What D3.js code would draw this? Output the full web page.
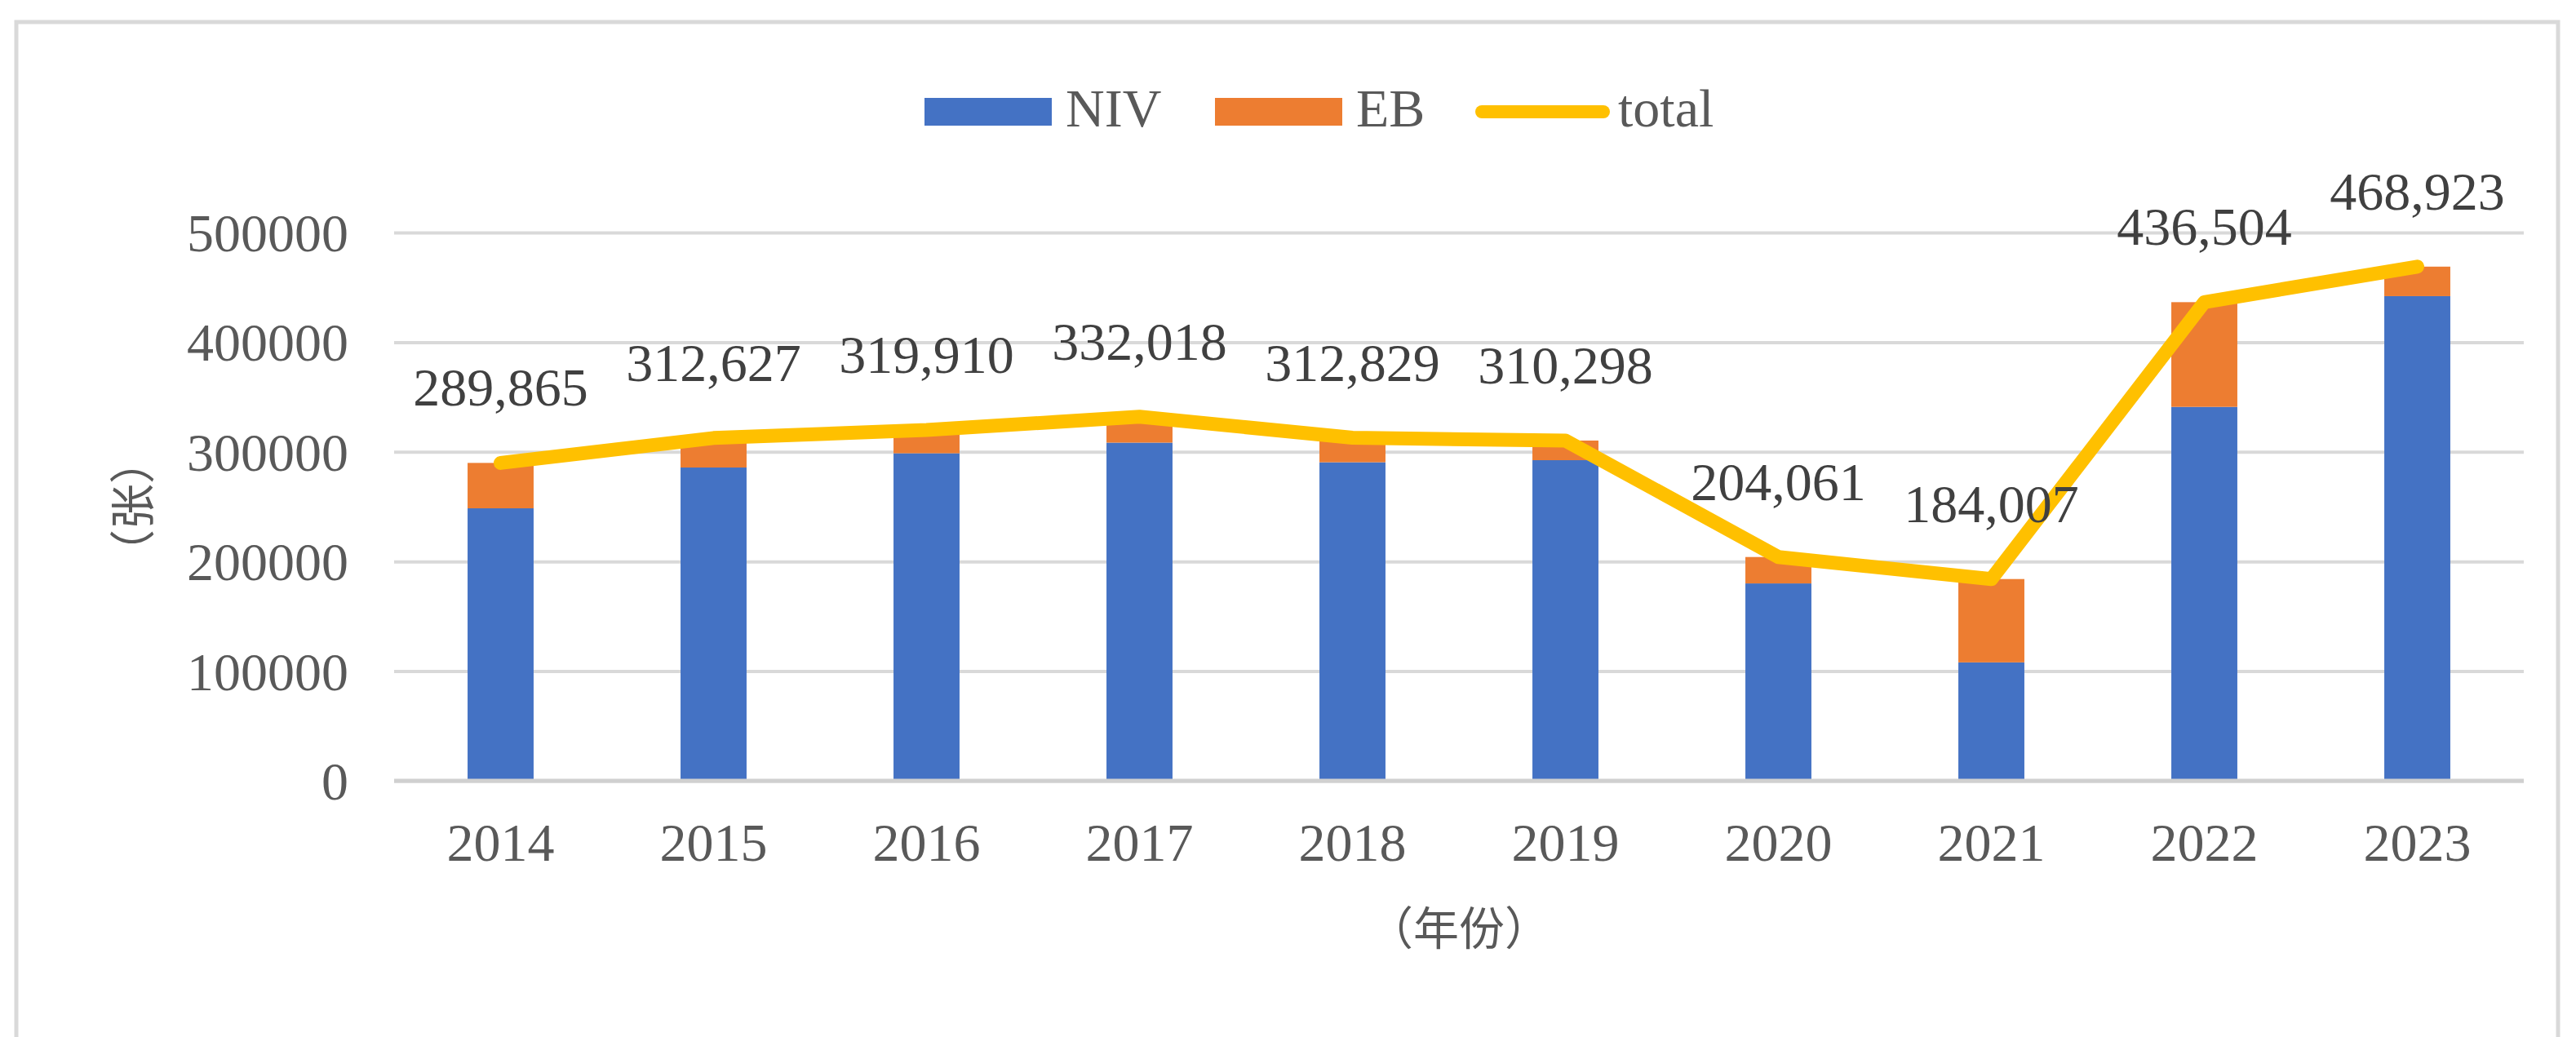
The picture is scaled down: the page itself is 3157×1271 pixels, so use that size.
<!DOCTYPE html>
<html>
<head>
  <meta charset="utf-8">
  <script src="https://cdn.jsdelivr.net/npm/d3@7"></script>
  <style>
    body {margin:0; background:#fff;}
    text {font-family: "Liberation Serif", "Times New Roman", serif;}
    .cjk {font-family: "Noto Sans CJK SC", sans-serif;}
  </style>
</head>
<body>
<script>
const years = ["2014","2015","2016","2017","2018","2019","2020","2021","2022","2023"];
const niv   = [248500, 285700, 298700, 308400, 290500, 292400, 180000, 108000, 341000, 442000];
const eb    = [41400, 26900, 21200, 23600, 22300, 17900, 24100, 76000, 95500, 26900];
const total = [289865, 312627, 319910, 332018, 312829, 310298, 204061, 184007, 436504, 468923];
const yTicks = [0, 100000, 200000, 300000, 400000, 500000];
const series = ["NIV", "EB", "total"];

const W = 3157, H = 1271;
const colors = {NIV: "#4472C4", EB: "#ED7D31", total: "#FFC000"};

const svg = d3.select("body").append("svg")
  .attr("width", W).attr("height", H);

// outer frame
svg.append("rect")
  .attr("x", 20).attr("y", 27)
  .attr("width", 3115).attr("height", 1320)
  .attr("fill", "none").attr("stroke", "#d9d9d9").attr("stroke-width", 5);

const x = d3.scaleBand().domain(years).range([483, 3093])
  .paddingInner(0.69).paddingOuter(0.345);
const y = d3.scaleLinear().domain([0, 500000]).range([957, 285]);

// gridlines
const grid = svg.append("g").attr("transform", "translate(483,0)")
  .call(d3.axisLeft(y).tickValues(yTicks).tickSize(-(3093 - 483)).tickFormat(""));
grid.select(".domain").remove();
grid.selectAll(".tick line").attr("stroke", "#d9d9d9").attr("stroke-width", 4);

// y labels
const yAxis = svg.append("g").attr("transform", "translate(427,0)")
  .call(d3.axisLeft(y).tickValues(yTicks).tickSize(0).tickPadding(0).tickFormat(d3.format("d")));
yAxis.select(".domain").remove();
yAxis.selectAll("text")
  .attr("font-family", "Liberation Serif").attr("font-size", 66)
  .attr("fill", "#595959").attr("dy", "0.34em");

// stacked bars
const rows = years.map((yr, i) => ({year: yr, NIV: niv[i], EB: eb[i]}));
const stacked = d3.stack().keys(["NIV", "EB"])(rows);
svg.append("g").selectAll("g").data(stacked).join("g")
  .attr("fill", d => colors[d.key])
  .selectAll("rect").data(d => d).join("rect")
  .attr("x", d => x(d.data.year))
  .attr("width", x.bandwidth())
  .attr("y", d => y(d[1]))
  .attr("height", d => y(d[0]) - y(d[1]));

// x axis line
svg.append("line")
  .attr("x1", 483).attr("x2", 3093).attr("y1", y(0)).attr("y2", y(0))
  .attr("stroke", "#d0d0d0").attr("stroke-width", 5);

// x labels
const xAxis = svg.append("g").attr("transform", "translate(0,1055)")
  .call(d3.axisBottom(x).tickSize(0).tickPadding(0));
xAxis.select(".domain").remove();
xAxis.selectAll("text")
  .attr("font-family", "Liberation Serif").attr("font-size", 66)
  .attr("fill", "#595959").attr("dy", 0);

// total line
const line = d3.line()
  .x((d, i) => x(years[i]) + x.bandwidth() / 2)
  .y(d => y(d));
svg.append("path").datum(total)
  .attr("d", line)
  .attr("fill", "none").attr("stroke", colors.total)
  .attr("stroke-width", 17).attr("stroke-linejoin", "round").attr("stroke-linecap", "round");

// data labels
svg.append("g").selectAll("text").data(total).join("text")
  .attr("x", (d, i) => x(years[i]) + x.bandwidth() / 2)
  .attr("y", d => y(d) - 70)
  .attr("text-anchor", "middle")
  .attr("font-size", 66).attr("fill", "#404040")
  .text(d => d3.format(",")(d));

// axis titles
svg.append("text").attr("class", "cjk")
  .attr("x", 1788).attr("y", 1158)
  .attr("text-anchor", "middle").attr("font-size", 56).attr("fill", "#595959")
  .text("（年份）");
svg.append("text").attr("class", "cjk")
  .attr("transform", "translate(183,621) rotate(-90)")
  .attr("text-anchor", "middle").attr("font-size", 56).attr("fill", "#595959")
  .text("（张）");

// legend
const legend = svg.append("g");
const legX = [1133, 1489, 1808];
series.forEach((s, i) => {
  const g = legend.append("g").attr("transform", `translate(${legX[i]},0)`);
  if (s === "total") {
    g.append("line").attr("x1", 8).attr("x2", 157).attr("y1", 137).attr("y2", 137)
      .attr("stroke", colors[s]).attr("stroke-width", 16).attr("stroke-linecap", "round");
  } else {
    g.append("rect").attr("x", 0).attr("y", 120).attr("width", 156).attr("height", 34)
      .attr("fill", colors[s]);
  }
  g.append("text").attr("x", s === "total" ? 175 : 173).attr("y", 155)
    .attr("font-size", 66).attr("fill", "#595959").text(s);
});
</script>
</body>
</html>
